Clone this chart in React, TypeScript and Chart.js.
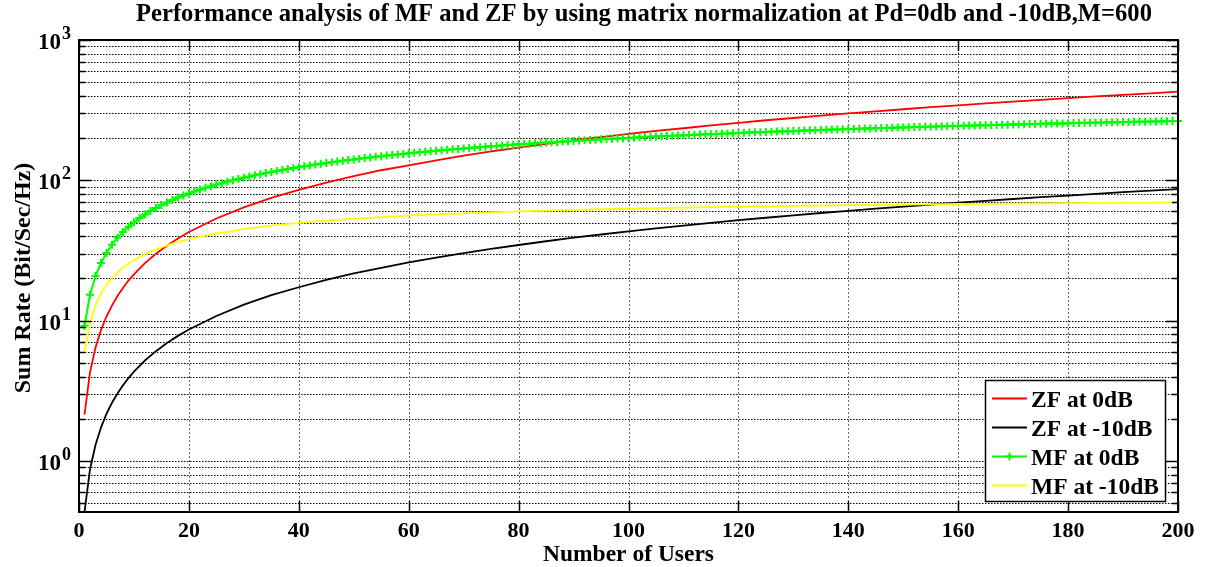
import { useEffect, useRef } from "react";
import { Chart, registerables } from "chart.js";

Chart.register(...registerables);

const TITLE =
  "Performance analysis of MF and ZF by using matrix normalization at Pd=0db and -10dB,M=600";
const X_TITLE = "Number of Users";
const Y_TITLE = "Sum Rate (Bit/Sec/Hz)";

const SERIES_LABELS = ["ZF at 0dB", "ZF at -10dB", "MF at 0dB", "MF at -10dB"];
const SERIES_COLORS = ["#ff0000", "#000000", "#00ff00", "#ffff00"];

// axis ticks and grid positions
const xTicks = [0, 20, 40, 60, 80, 100, 120, 140, 160, 180, 200];
const yDecades = [1, 10, 100, 1000];
const yDecadeExponents = ["0", "1", "2", "3"];
const yGrid = [
  0.5, 0.6, 0.7, 0.8, 0.9,
  1, 2, 3, 4, 5, 6, 7, 8, 9,
  10, 20, 30, 40, 50, 60, 70, 80, 90,
  100, 200, 300, 400, 500, 600, 700, 800, 900,
  1000,
];

// user counts at which the line-only curves are sampled
const sparseUsers = [
  1, 2, 3, 4, 5, 6, 7, 8, 9, 10, 12, 14, 16, 18, 20,
  25, 30, 35, 40, 45, 50, 55, 60, 65, 70, 75, 80, 85, 90, 95, 100,
  105, 110, 115, 120, 125, 130, 135, 140, 145, 150, 155, 160, 165, 170, 175,
  180, 185, 190, 195, 200,
];

const zfAt0dB = [
  2.14, 4.28, 6.42, 8.56, 10.7, 12.8, 15.0, 17.1, 19.3, 21.4, 25.7, 30.0, 34.2, 38.5, 42.8,
  53.5, 64.2, 74.9, 85.6, 96.3, 107, 118, 128, 139, 150, 161, 171, 182, 193, 203, 214,
  225, 235, 246, 257, 268, 278, 289, 300, 310, 321, 332, 342, 353, 364, 375,
  385, 396, 407, 417, 428,
];

const zfAtMinus10dB = [
  0.433, 0.87, 1.3, 1.73, 2.17, 2.6, 3.03, 3.46, 3.9, 4.33, 5.2, 6.06, 6.93, 7.79, 8.66,
  10.8, 13.0, 15.2, 17.3, 19.5, 21.7, 23.8, 26.0, 28.1, 30.3, 32.5, 34.6, 36.8, 39.0, 41.1, 43.3,
  45.5, 47.6, 49.8, 52.0, 54.1, 56.3, 58.5, 60.6, 62.8, 65.0, 67.1, 69.3, 71.4, 73.6, 75.8,
  77.9, 80.1, 82.3, 84.4, 86.6,
];

const mfAtMinus10dB = [
  5.93, 9.77, 12.9, 15.6, 18.0, 20.1, 22.1, 23.9, 25.5, 27.0, 29.8, 32.2, 34.4, 36.3, 38.1,
  41.8, 44.9, 47.5, 49.7, 51.6, 53.3, 54.7, 56.0, 57.2, 58.2, 59.2, 60.1, 60.8, 61.6, 62.2, 62.9,
  63.4, 64.0, 64.5, 64.9, 65.3, 65.8, 66.1, 66.5, 66.8, 67.2, 67.5, 67.8, 68.0, 68.3, 68.5,
  68.8, 69.0, 69.2, 69.4, 69.6,
];

// one value per user count, 1 ... 200
const mfAt0dB = [
  9.2, 15.3, 20.8, 25.8, 30.4, 34.8, 38.9, 42.9, 46.6, 50.3,
  53.8, 57.1, 60.4, 63.5, 66.6, 69.6, 72.5, 75.3, 78.0, 80.7,
  83.3, 85.9, 88.4, 90.8, 93.2, 95.5, 97.8, 100.1, 102.3, 104.4,
  106.6, 108.7, 110.7, 112.7, 114.7, 116.7, 118.6, 120.5, 122.3, 124.1,
  125.9, 127.7, 129.5, 131.2, 132.9, 134.5, 136.2, 137.8, 139.4, 141.0,
  142.5, 144.1, 145.6, 147.1, 148.6, 150.0, 151.5, 152.9, 154.3, 155.7,
  157.1, 158.4, 159.8, 161.1, 162.4, 163.7, 165.0, 166.2, 167.5, 168.7,
  170.0, 171.2, 172.4, 173.5, 174.7, 175.9, 177.0, 178.2, 179.3, 180.4,
  181.5, 182.6, 183.7, 184.8, 185.8, 186.9, 187.9, 188.9, 189.9, 191.0,
  192.0, 192.9, 193.9, 194.9, 195.9, 196.8, 197.8, 198.7, 199.6, 200.5,
  201.5, 202.4, 203.3, 204.1, 205.0, 205.9, 206.8, 207.6, 208.5, 209.3,
  210.2, 211.0, 211.8, 212.6, 213.4, 214.2, 215.0, 215.8, 216.6, 217.4,
  218.2, 218.9, 219.7, 220.5, 221.2, 221.9, 222.7, 223.4, 224.1, 224.9,
  225.6, 226.3, 227.0, 227.7, 228.4, 229.1, 229.8, 230.4, 231.1, 231.8,
  232.4, 233.1, 233.8, 234.4, 235.1, 235.7, 236.3, 237.0, 237.6, 238.2,
  238.9, 239.5, 240.1, 240.7, 241.3, 241.9, 242.5, 243.1, 243.7, 244.2,
  244.8, 245.4, 246.0, 246.5, 247.1, 247.7, 248.2, 248.8, 249.3, 249.9,
  250.4, 251.0, 251.5, 252.0, 252.6, 253.1, 253.6, 254.1, 254.6, 255.2,
  255.7, 256.2, 256.7, 257.2, 257.7, 258.2, 258.7, 259.2, 259.6, 260.1,
  260.6, 261.1, 261.6, 262.0, 262.5, 263.0, 263.4, 263.9, 264.4, 264.8,
];

const FONT = "'Liberation Serif', 'Times New Roman', serif";

const framePlugin = {
  id: "matlabFrame",
  beforeDatasetsDraw(chart: any) {
    const { ctx, chartArea: a, scales } = chart;
    const x = scales.x;
    const y = scales.y;
    ctx.save();
    // horizontal dotted grid (major + minor decades)
    ctx.strokeStyle = "#000";
    ctx.lineWidth = 1.2;
    ctx.setLineDash([1.5, 1.5]);
    for (const v of yGrid) {
      const py = Math.round(y.getPixelForValue(v)) + 0.5;
      if (py < a.top + 1 || py > a.bottom - 1) continue;
      ctx.beginPath();
      ctx.moveTo(a.left, py);
      ctx.lineTo(a.right, py);
      ctx.stroke();
    }
    // vertical dashed grid
    ctx.strokeStyle = "#666";
    ctx.lineWidth = 1;
    ctx.setLineDash([2, 2]);
    for (const v of xTicks) {
      const px = Math.round(x.getPixelForValue(v)) + 0.5;
      if (px < a.left + 1 || px > a.right - 1) continue;
      ctx.beginPath();
      ctx.moveTo(px, a.top);
      ctx.lineTo(px, a.bottom);
      ctx.stroke();
    }
    ctx.restore();
  },
  afterDatasetsDraw(chart: any) {
    const { ctx, chartArea: a, scales } = chart;
    const x = scales.x;
    const y = scales.y;
    ctx.save();
    ctx.setLineDash([]);
    ctx.strokeStyle = "#000";
    ctx.lineWidth = 1.5;
    // inward tick marks on all four sides
    ctx.beginPath();
    for (const v of yGrid) {
      const py = Math.round(y.getPixelForValue(v)) + 0.5;
      if (py < a.top || py > a.bottom) continue;
      const len = yDecades.includes(v) ? 12 : 6;
      ctx.moveTo(a.left, py);
      ctx.lineTo(a.left + len, py);
      ctx.moveTo(a.right, py);
      ctx.lineTo(a.right - len, py);
    }
    for (const v of xTicks) {
      const px = Math.round(x.getPixelForValue(v)) + 0.5;
      ctx.moveTo(px, a.bottom);
      ctx.lineTo(px, a.bottom - 11);
      ctx.moveTo(px, a.top);
      ctx.lineTo(px, a.top + 11);
    }
    ctx.stroke();
    // axes box
    ctx.lineWidth = 2;
    ctx.strokeRect(a.left, a.top, a.right - a.left, a.bottom - a.top);

    // legend box in the lower right corner
    const lx = 985.5;
    const ly = 380.5;
    const lw = 180;
    const lh = 121;
    ctx.fillStyle = "#fff";
    ctx.fillRect(lx, ly, lw, lh);
    ctx.lineWidth = 1.5;
    ctx.strokeStyle = "#000";
    ctx.strokeRect(lx, ly, lw, lh);
    ctx.font = `bold 23.5px ${FONT}`;
    ctx.textAlign = "left";
    ctx.textBaseline = "alphabetic";
    SERIES_LABELS.forEach((label, i) => {
      const cy = 398.5 + i * 29;
      ctx.strokeStyle = SERIES_COLORS[i];
      ctx.lineWidth = 1.8;
      ctx.beginPath();
      ctx.moveTo(992, cy);
      ctx.lineTo(1027, cy);
      ctx.stroke();
      if (i === 2) {
        ctx.lineWidth = 2;
        ctx.beginPath();
        ctx.moveTo(1009.5 - 4, cy);
        ctx.lineTo(1009.5 + 4, cy);
        ctx.moveTo(1009.5, cy - 4);
        ctx.lineTo(1009.5, cy + 4);
        ctx.stroke();
      }
      ctx.fillStyle = "#000";
      ctx.fillText(label, 1031, cy + 8);
    });
    ctx.restore();
  },
  afterDraw(chart: any) {
    const { ctx, chartArea: a, scales } = chart;
    const x = scales.x;
    const y = scales.y;
    ctx.save();
    ctx.fillStyle = "#000";
    ctx.textBaseline = "alphabetic";

    // x tick labels
    ctx.font = `bold 22px ${FONT}`;
    ctx.textAlign = "center";
    for (const v of xTicks) {
      ctx.fillText(String(v), x.getPixelForValue(v), 537);
    }

    // y tick labels as powers of ten
    yDecades.forEach((v, i) => {
      const py = y.getPixelForValue(v);
      ctx.font = `bold 23px ${FONT}`;
      ctx.textAlign = "right";
      ctx.fillText("10", 61, py + 9);
      ctx.font = `bold 18px ${FONT}`;
      ctx.textAlign = "left";
      ctx.fillText(yDecadeExponents[i], 62, py - 1);
    });

    // axis titles
    ctx.font = `bold 23.5px ${FONT}`;
    ctx.textAlign = "center";
    ctx.fillText(X_TITLE, (a.left + a.right) / 2, 561);
    ctx.save();
    ctx.font = `bold 24px ${FONT}`;
    ctx.translate(30, (a.top + a.bottom) / 2 + 2);
    ctx.rotate(-Math.PI / 2);
    ctx.fillText(Y_TITLE, 0, 0);
    ctx.restore();

    // chart title
    ctx.font = `bold 24.6px ${FONT}`;
    ctx.fillText(TITLE, 644, 21);
    ctx.restore();
  },
};

export default function App() {
  const canvasRef = useRef<HTMLCanvasElement | null>(null);

  useEffect(() => {
    const canvas = canvasRef.current;
    if (!canvas) return;

    const line = (i: number, users: number[], values: number[]) => ({
      label: SERIES_LABELS[i],
      data: users.map((u, k) => ({ x: u, y: values[k] })),
      borderColor: SERIES_COLORS[i],
      backgroundColor: SERIES_COLORS[i],
      borderWidth: 1.8,
      pointRadius: 0,
      tension: 0,
      fill: false,
    });

    const chart = new Chart(canvas, {
      type: "line",
      data: {
        datasets: [
          { ...line(0, sparseUsers, zfAt0dB), order: 4 },
          { ...line(1, sparseUsers, zfAtMinus10dB), order: 3 },
          {
            label: SERIES_LABELS[2],
            data: mfAt0dB.map((v, k) => ({ x: k + 1, y: v })),
            borderColor: SERIES_COLORS[2],
            backgroundColor: SERIES_COLORS[2],
            borderWidth: 2,
            pointStyle: "cross",
            pointRadius: 4,
            pointBorderWidth: 2,
            pointBorderColor: SERIES_COLORS[2],
            tension: 0,
            fill: false,
            clip: false,
            order: 2,
          },
          { ...line(3, sparseUsers, mfAtMinus10dB), order: 1 },
        ],
      },
      options: {
        animation: false,
        responsive: false,
        events: [],
        layout: { padding: { top: 40, right: 31, left: 0, bottom: 0 } },
        plugins: {
          legend: { display: false },
          tooltip: { enabled: false },
          title: { display: false },
        },
        scales: {
          x: {
            type: "linear",
            min: 0,
            max: 200,
            ticks: { display: false, stepSize: 20 },
            grid: { display: false, drawTicks: false },
            border: { display: false },
            afterFit: (s: any) => {
              s.height = 55;
            },
          },
          y: {
            type: "logarithmic",
            min: 0.433,
            max: 1000,
            ticks: { display: false },
            grid: { display: false, drawTicks: false },
            border: { display: false },
            afterFit: (s: any) => {
              s.width = 79;
            },
          },
        },
      },
      plugins: [framePlugin],
    });

    return () => chart.destroy();
  }, []);

  return (
    <div style={{ position: "absolute", left: 0, top: 0, width: 1209, height: 567, background: "#fff" }}>
      <canvas ref={canvasRef} width={1209} height={567} />
    </div>
  );
}
